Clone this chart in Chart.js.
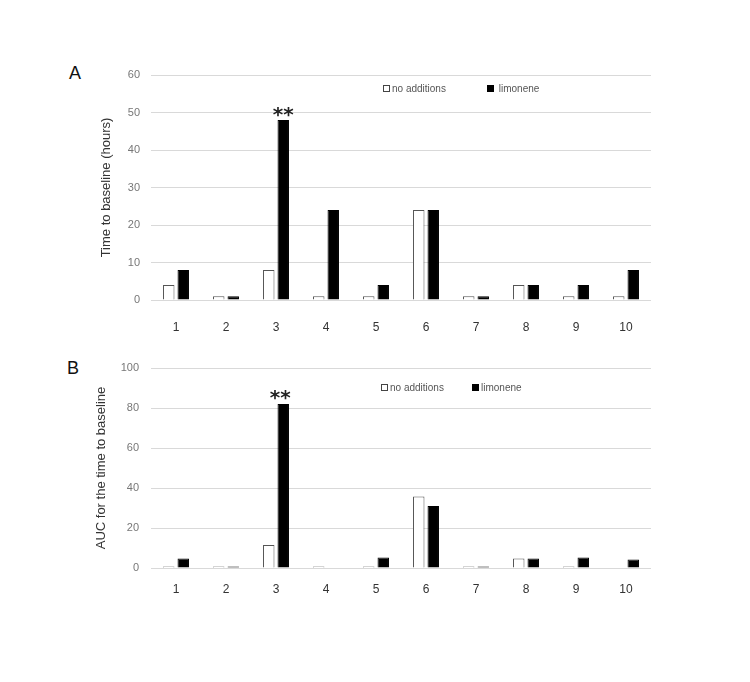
<!DOCTYPE html>
<html>
<head>
<meta charset="utf-8">
<script src="https://cdn.jsdelivr.net/npm/chart.js@4.4.0/dist/chart.umd.min.js"></script>
<style>
  html, body { margin: 0; padding: 0; background: #ffffff; }
  body { width: 750px; height: 682px; position: relative; overflow: hidden; font-family: "Liberation Sans", Arial, sans-serif; }
  .wrap { position: absolute; left: 0; width: 750px; }
  .letter { position: absolute; font-size: 18px; color: #111; font-family: "Liberation Sans", Arial, sans-serif; }
  .legend { position: absolute; font-size: 10px; color: #555; white-space: nowrap; }
  .legend span.box { display: inline-block; width: 5px; height: 5px; border: 1px solid #444; vertical-align: middle; margin-right: 2px; position: relative; top: -1px; }
  .legend span.item { position: absolute; top: 0; }
</style>
</head>
<body>
<div class="letter" style="left:69px; top:63px;">A</div>
<div class="letter" style="left:67px; top:358px;">B</div>

<div class="wrap" style="top:0; height:345px;"><canvas id="cA" width="750" height="345"></canvas></div>
<div class="wrap" style="top:340px; height:342px;"><canvas id="cB" width="750" height="342"></canvas></div>

<div class="legend" style="left:383px; top:83px;">
  <span class="item" style="left:0;"><span class="box" style="background:#fff;"></span>no additions</span>
  <span class="item" style="left:104px;"><span class="box" style="background:#000;border-color:#000;"></span>&nbsp;limonene</span>
</div>
<div class="legend" style="left:381px; top:382px;">
  <span class="item" style="left:0;"><span class="box" style="background:#fff;"></span>no additions</span>
  <span class="item" style="left:91px;"><span class="box" style="background:#000;border-color:#000;"></span>limonene</span>
</div>

<script>
// ---- data ----
const categories = ["1","2","3","4","5","6","7","8","9","10"];
const seriesNames = ["no additions", "limonene"];

const timeNoAdditions = [4, 1, 8, 1, 1, 24, 1, 4, 1, 1];
const timeLimonene    = [8, 1, 48, 24, 4, 24, 1, 4, 4, 8];

const aucNoAdditions  = [0.8, 0.8, 11.5, 0.8, 0.8, 35.7, 0.8, 4.8, 0.8, 0];
const aucLimonene     = [4.8, 0.8, 82, 0, 5.3, 31, 0.8, 4.8, 5.3, 4.3];

const timeTicksMax = 60, timeTicksStep = 10;
const aucTicksMax = 100, aucTicksStep = 20;

// significance marker: [datasetIndex, categoryIndex]
const sigMarkA = [1, 2];
const sigMarkB = [1, 2];

Chart.defaults.font.family = '"Liberation Sans", Arial, sans-serif';
Chart.defaults.animation = false;
Chart.defaults.devicePixelRatio = 1;

function asteriskPlugin(mark, dx, dy) {
  return {
    id: 'asterisks',
    afterDatasetsDraw(chart) {
      const el = chart.getDatasetMeta(mark[0]).data[mark[1]];
      const ctx = chart.ctx;
      ctx.save();
      ctx.font = 'bold 20px "DejaVu Sans", sans-serif';
      ctx.fillStyle = '#222';
      ctx.textAlign = 'center';
      ctx.textBaseline = 'alphabetic';
      ctx.fillText('**', el.x + dx, el.y + dy);
      ctx.restore();
    }
  };
}

function makeChart(id, a, b, maxV, step, title, pad, yWidth, xHeight, xPad, yPad, plugin) {
  return new Chart(document.getElementById(id), {
    type: 'bar',
    data: {
      labels: categories,
      datasets: [
        { label: seriesNames[0], data: a, backgroundColor: '#ffffff', borderColor: '#555555', borderWidth: 1,
          barPercentage: 0.79, categoryPercentage: 0.58 },
        { label: seriesNames[1], data: b, backgroundColor: '#000000', borderColor: '#000000', borderWidth: 1,
          barPercentage: 0.79, categoryPercentage: 0.58 }
      ]
    },
    options: {
      responsive: false,
      layout: { padding: pad },
      plugins: { legend: { display: false }, tooltip: { enabled: false } },
      scales: {
        x: {
          grid: { display: false, drawTicks: false },
          border: { display: false },
          ticks: { color: '#333', font: { size: 12 }, padding: xPad, maxRotation: 0 },
          afterFit: (s) => { s.height = xHeight; }
        },
        y: {
          min: 0, max: maxV,
          grid: { color: '#d9d9d9', lineWidth: 1, drawTicks: false },
          border: { display: false },
          ticks: { stepSize: step, color: '#777', font: { size: 11 }, padding: yPad },
          title: { display: true, text: title, color: '#333', font: { size: 13 }, padding: { top: 4, bottom: 4 } },
          afterFit: (s) => { s.width = yWidth; }
        }
      }
    },
    plugins: [plugin]
  });
}

makeChart('cA', timeNoAdditions, timeLimonene, timeTicksMax, timeTicksStep,
  'Time to baseline (hours)', { top: 75, left: 95, right: 99, bottom: 0 }, 56, 45, 20, 11,
  asteriskPlugin(sigMarkA, 0, 1));

makeChart('cB', aucNoAdditions, aucLimonene, aucTicksMax, aucTicksStep,
  'AUC for the time to baseline', { top: 28, left: 90, right: 99, bottom: 0 }, 61, 114, 14, 12,
  asteriskPlugin(sigMarkB, -3, 0));
</script>
</body>
</html>
